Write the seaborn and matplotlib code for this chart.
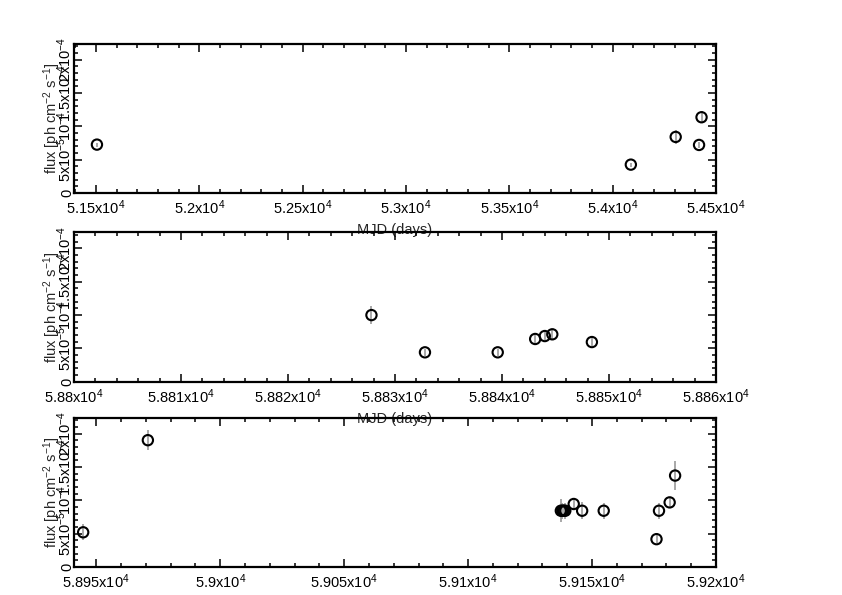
import numpy as np
import matplotlib
matplotlib.use("Agg")
import matplotlib.pyplot as plt
import matplotlib.ticker as mticker
import seaborn as sns

# -------------------------------
# data
# -------------------------------
mjd_1 = [51505, 54088, 54305, 54418, 54430]
flux_1 = [7.25e-5, 4.25e-5, 8.4e-5, 7.2e-5, 1.135e-4]
err_1 = [3e-6, 3e-6, 1.1e-5, 4.5e-6, 9e-6]

mjd_2 = [58827.8, 58832.8, 58839.6, 58843.1, 58844.0, 58844.7, 58848.4]
flux_2 = [9.98e-5, 4.4e-5, 4.4e-5, 6.4e-5, 6.84e-5, 7.1e-5, 5.94e-5]
err_2 = [1.4e-5, 5e-6, 5e-6, 6e-6, 6e-6, 7e-6, 6e-6]

mjd_3 = [58944.7, 58970.8, 59137.4, 59138.0, 59138.6, 59139.2,
         59142.6, 59146.0, 59154.7, 59176.0, 59177.0, 59181.3, 59183.5]
flux_3 = [5.2e-5, 1.90e-4, 8.43e-5, 8.43e-5, 8.43e-5, 8.43e-5,
          9.44e-5, 8.43e-5, 8.43e-5, 4.17e-5, 8.43e-5, 9.68e-5, 1.37e-4]
err_3 = [1.2e-5, 1.5e-5, 1.75e-5, 1.2e-5, 1.0e-5, 1.2e-5,
         7e-6, 1.3e-5, 1.2e-5, 6e-6, 1.2e-5, 7e-6, 2.2e-5]

xlims = [(51394, 54500), (58800, 58860), (58941, 59200)]
xmajor = [500, 10, 50]
xminor = [100, 2, 10]

sns.set_style("ticks")
plt.rcParams['font.family'] = ['Liberation Sans', 'DejaVu Sans']
plt.rcParams['mathtext.fontset'] = 'custom'
plt.rcParams['mathtext.rm'] = 'Liberation Sans'
plt.rcParams['mathtext.it'] = 'Liberation Sans:italic'
plt.rcParams['mathtext.bf'] = 'Liberation Sans:bold'


def xfmt(v, pos):
    return f"{v / 1e4:g}x10$^4$"


def yfmt(v, pos):
    if v < 1e-12:
        return "0" if abs(v) < 1e-12 else ""
    e = int(np.floor(np.log10(v) + 1e-9))
    m = v / 10 ** e
    if abs(m - 1) < 1e-6:
        return "10$^{%d}$" % e
    return "%gx10$^{%d}$" % (round(m, 3), e)


fig = plt.figure(figsize=(8.42, 5.95), dpi=100)
left, width = 74 / 842, 642 / 842
bottoms = [1 - 193 / 595, 1 - 381.7 / 595, 1 - 567 / 595]
height = 149.5 / 595

panels = [(mjd_1, flux_1, err_1), (mjd_2, flux_2, err_2), (mjd_3, flux_3, err_3)]

for i, (x, y, e) in enumerate(panels):
    ax = fig.add_axes([left, bottoms[i], width, height])
    ax.set_facecolor('none')
    ax.errorbar(x, y, yerr=e, fmt='none', ecolor='#999999', elinewidth=1.2,
                capsize=0, zorder=2)
    sns.scatterplot(x=x, y=y, ax=ax, marker='o', s=55, fc='none',
                    edgecolor='black', linewidth=1.5, zorder=3)
    ax.set_xlim(*xlims[i])
    ax.set_ylim(0, 2.24e-4)
    ax.xaxis.set_major_locator(mticker.MultipleLocator(xmajor[i]))
    ax.xaxis.set_minor_locator(mticker.MultipleLocator(xminor[i]))
    ax.yaxis.set_major_locator(mticker.MultipleLocator(5e-5))
    ax.yaxis.set_minor_locator(mticker.MultipleLocator(1e-5))
    ax.xaxis.set_major_formatter(mticker.FuncFormatter(xfmt))
    ax.yaxis.set_major_formatter(mticker.FuncFormatter(yfmt))
    ax.tick_params(which='both', direction='in', top=True, right=True,
                   color='black', width=1.1, labelsize=10.5, labelcolor='black')
    ax.tick_params(which='major', length=6)
    ax.tick_params(which='minor', length=3)
    ax.tick_params(axis='x', pad=4)
    ax.tick_params(axis='y', pad=0, labelrotation=90)
    plt.setp(ax.get_yticklabels(), va='center')
    for sp in ax.spines.values():
        sp.set_linewidth(1.6)
        sp.set_color('black')
    if i < 2:
        # the last panel's x label falls below the page in the original
        ax.set_xlabel("MJD (days)", fontsize=10.5)
        ax.xaxis.set_label_coords(0.5, -0.2)
    ax.set_ylabel("flux [ph cm$^{-2}$ s$^{-1}$]", fontsize=10.5)
    ax.yaxis.set_label_coords(-0.017, 0.5)

fig.savefig("out.png", dpi=100)
